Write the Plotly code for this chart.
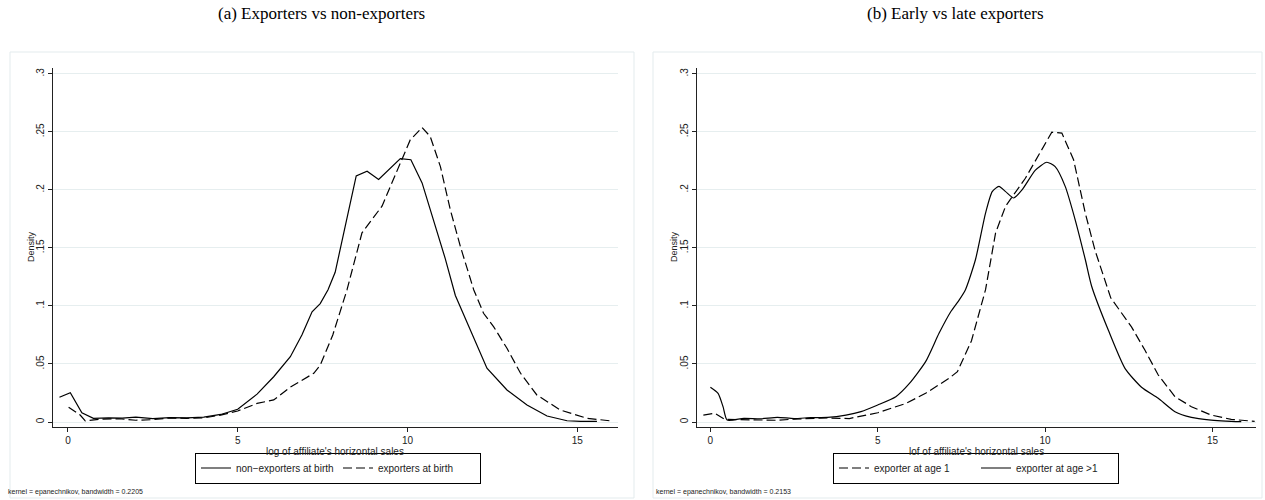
import plotly.graph_objects as go

# ---- Panel (a): exporters vs non-exporters ----
a_solid_x = [-0.25, 0.07, 0.41, 0.75, 1.2, 1.6, 2.0, 2.5, 3.0, 3.5, 4.0, 4.5, 5.0, 5.57, 6.06, 6.55,
             6.89, 7.19, 7.43, 7.66, 7.87, 8.17, 8.49, 8.81, 9.15, 9.79, 10.1, 10.43, 10.77, 11.11,
             11.41, 12.34, 12.93, 13.52, 14.11, 14.7, 15.1, 15.58]
a_solid_y = [0.0213, 0.0253, 0.008, 0.0032, 0.0035, 0.0033, 0.0042, 0.003, 0.0038, 0.0036, 0.0042,
             0.0065, 0.011, 0.024, 0.039, 0.0563, 0.075, 0.095, 0.102, 0.114, 0.129, 0.168, 0.212,
             0.216, 0.209, 0.227, 0.226, 0.206, 0.174, 0.141, 0.109, 0.0463, 0.0276, 0.0147, 0.0052,
             0.0011, 0.0005, 0.0005]
a_dash_x = [0.02, 0.36, 0.51, 1.0, 1.5, 2.0, 2.5, 3.0, 3.5, 4.0, 4.5, 5.0, 5.57, 6.06, 6.55, 7.24,
            7.43, 7.8, 8.22, 8.66, 9.25, 9.79, 10.08, 10.43, 10.67, 10.97, 11.26, 11.56, 11.95, 12.24,
            12.54, 12.93, 13.33, 13.81, 14.5, 15.29, 15.97]
a_dash_y = [0.0127, 0.006, 0.001, 0.0025, 0.0028, 0.0015, 0.002, 0.0035, 0.0032, 0.0035, 0.006,
            0.0095, 0.016, 0.019, 0.030, 0.042, 0.049, 0.075, 0.114, 0.163, 0.186, 0.223, 0.243,
            0.2537, 0.246, 0.22, 0.183, 0.151, 0.114, 0.0937, 0.082, 0.0635, 0.042, 0.0233, 0.0103,
            0.0032, 0.001]

# ---- Panel (b): early vs late exporters ----
b_solid_x = [0.0, 0.23, 0.38, 0.5, 1.0, 1.5, 2.0, 2.5, 3.0, 3.5, 4.05, 4.5, 5.0, 5.54, 5.94, 6.43,
             6.83, 7.18, 7.43, 7.62, 7.92, 8.22, 8.42, 8.62, 8.82, 9.06, 9.31, 9.71, 10.05, 10.3,
             10.6, 10.9, 11.2, 11.39, 11.89, 12.39, 12.88, 13.38, 13.88, 14.37, 14.96, 15.4, 15.86]
b_solid_y = [0.030, 0.0247, 0.013, 0.0017, 0.0032, 0.0028, 0.0040, 0.003, 0.0038, 0.004, 0.006,
             0.009, 0.0147, 0.0218, 0.033, 0.052, 0.0764, 0.095, 0.105, 0.114, 0.14, 0.18, 0.1985,
             0.203, 0.1985, 0.193, 0.2, 0.217, 0.2238, 0.22, 0.203, 0.174, 0.14, 0.117, 0.079, 0.046,
             0.030, 0.0204, 0.0089, 0.004, 0.0017, 0.0008, 0.0003]
b_dash_x = [-0.21, 0.13, 0.43, 1.0, 1.5, 2.0, 2.5, 3.0, 3.5, 4.15, 5.0, 5.84, 6.43, 7.13, 7.38, 7.8,
            8.22, 8.52, 8.82, 9.41, 9.81, 10.2, 10.5, 10.85, 11.2, 11.49, 11.96, 12.58, 12.98, 13.38,
            13.88, 14.37, 14.96, 15.56, 16.26]
b_dash_y = [0.006, 0.0075, 0.0023, 0.0018, 0.0015, 0.0015, 0.0025, 0.003, 0.0035, 0.003, 0.008,
            0.016, 0.0247, 0.0376, 0.0434, 0.07, 0.114, 0.163, 0.186, 0.21, 0.230, 0.2497, 0.2489,
            0.226, 0.18, 0.148, 0.107, 0.082, 0.062, 0.0405, 0.0218, 0.0132, 0.006, 0.0023, 0.0006]

y_tickvals = [0, 0.05, 0.1, 0.15, 0.2, 0.25, 0.3]
y_ticktext = ["0", ".05", ".1", ".15", ".2", ".25", ".3"]
x_tickvals = [0, 5, 10, 15]
x_ticktext = ["0", "5", "10", "15"]

titles = ["(a) Exporters vs non-exporters", "(b) Early vs late exporters"]
x_titles = ["log of affiliate's horizontal sales", "lof of affiliate's horizontal sales"]
notes = ["kernel = epanechnikov, bandwidth = 0.2205", "kernel = epanechnikov, bandwidth = 0.2153"]

W, H = 1265, 500
SANS = "Liberation Sans, Arial, sans-serif"
SERIF = "Liberation Serif, Times New Roman, serif"
DASH = "9px,4px"

fig = go.Figure()
fig.add_trace(go.Scatter(x=a_solid_x, y=a_solid_y, mode="lines", name="non\u2212exporters at birth",
                         line=dict(color="black", width=1.2), xaxis="x", yaxis="y", legend="legend"))
fig.add_trace(go.Scatter(x=a_dash_x, y=a_dash_y, mode="lines", name="exporters at birth",
                         line=dict(color="black", width=1.2, dash=DASH), xaxis="x", yaxis="y", legend="legend"))
fig.add_trace(go.Scatter(x=b_dash_x, y=b_dash_y, mode="lines", name="exporter at age 1",
                         line=dict(color="black", width=1.2, dash=DASH), xaxis="x2", yaxis="y2", legend="legend2"))
fig.add_trace(go.Scatter(x=b_solid_x, y=b_solid_y, mode="lines", name="exporter at age >1",
                         line=dict(color="black", width=1.2, shape="spline", smoothing=0.6),
                         xaxis="x2", yaxis="y2", legend="legend2"))

px = lambda v: v / W
py = lambda v: 1 - v / H

grid_c = "#e6eeef"
axis_common = dict(showline=True, linecolor="#222222", linewidth=1, ticks="outside", ticklen=4,
                   tickcolor="#222222", zeroline=False, tickfont=dict(family=SANS, size=10, color="#222222"))

ydom = [py(427), py(68)]
leg_common = dict(orientation="h", xanchor="center", yanchor="middle",
                  bordercolor="black", borderwidth=1, bgcolor="white",
                  entrywidth=97, entrywidthmode="pixels",
                  font=dict(family=SANS, size=10, color="#222222"))
fig.update_layout(
    width=W, height=H, margin=dict(l=0, r=0, t=0, b=0),
    paper_bgcolor="white", plot_bgcolor="white",
    xaxis=dict(domain=[px(53), px(618)], range=[-0.44, 16.2], tickvals=x_tickvals, ticktext=x_ticktext,
               showgrid=False, anchor="y", **axis_common),
    yaxis=dict(domain=ydom, range=[-0.0043, 0.305], tickvals=y_tickvals, ticktext=y_ticktext,
               tickangle=-90, showgrid=True, gridcolor=grid_c, gridwidth=1, anchor="x", **axis_common),
    xaxis2=dict(domain=[px(697), px(1256)], range=[-0.4, 16.3], tickvals=x_tickvals, ticktext=x_ticktext,
                showgrid=False, anchor="y2", **axis_common),
    yaxis2=dict(domain=ydom, range=[-0.0043, 0.305], tickvals=y_tickvals, ticktext=y_ticktext,
                tickangle=-90, showgrid=True, gridcolor=grid_c, gridwidth=1, anchor="x2", **axis_common),
    legend=dict(x=px(338), y=py(468), **leg_common),
    legend2=dict(x=px(976), y=py(468), **leg_common),
    showlegend=True,
)

frame_c = "#e3ebed"
shapes = []
for x0, x1 in [(10, 634), (653, 1262)]:
    shapes.append(dict(type="rect", xref="paper", yref="paper", x0=px(x0), x1=px(x1), y0=py(498), y1=py(52),
                       line=dict(color=frame_c, width=1), fillcolor="rgba(0,0,0,0)", layer="below"))
fig.update_layout(shapes=shapes)

ann = []
for cx, t in zip([322, 955], titles):
    ann.append(dict(x=px(cx), y=py(13), xref="paper", yref="paper", text=t, showarrow=False,
                    xanchor="center", yanchor="middle", font=dict(family=SERIF, size=17, color="black")))
for cx, t in zip([335, 976], x_titles):
    ann.append(dict(x=px(cx), y=py(451), xref="paper", yref="paper", text=t, showarrow=False,
                    xanchor="center", yanchor="middle", font=dict(family=SANS, size=10, color="#222222")))
for cx, t in zip([31, 674], ["Density", "Density"]):
    ann.append(dict(x=px(cx), y=py(247), xref="paper", yref="paper", text=t, showarrow=False, textangle=-90,
                    xanchor="center", yanchor="middle", font=dict(family=SANS, size=9, color="#222222")))
for lx, t in zip([6, 654], notes):
    ann.append(dict(x=px(lx), y=py(492), xref="paper", yref="paper", text=t, showarrow=False,
                    xanchor="left", yanchor="middle", font=dict(family=SANS, size=7, color="#222222")))
fig.update_layout(annotations=ann)

fig.write_html("out.html", config={"displayModeBar": False},
               post_script="document.body.style.margin='0px';document.body.style.overflow='hidden';")
